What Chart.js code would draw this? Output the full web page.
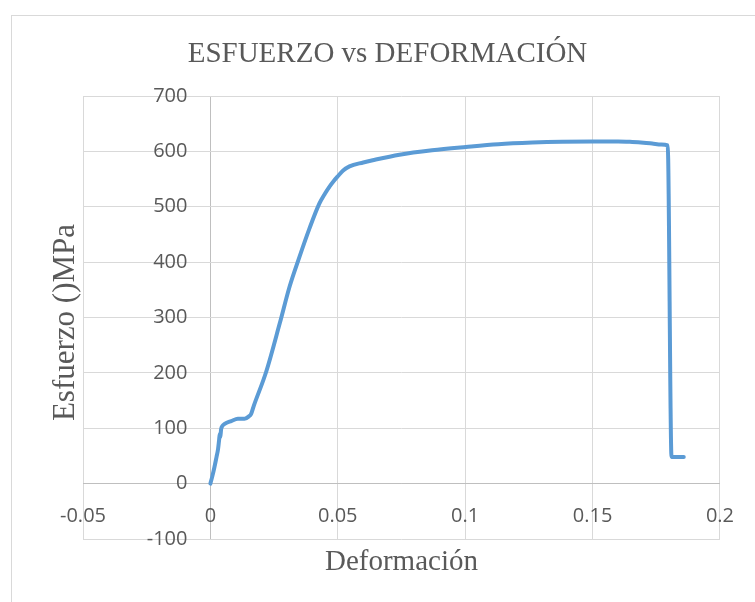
<!DOCTYPE html>
<html>
<head>
<meta charset="utf-8">
<script src="https://cdn.jsdelivr.net/npm/chart.js@4/dist/chart.umd.min.js"></script>
<style>
  html, body { margin: 0; padding: 0; background: #fff; overflow: hidden; }
  #wrap { position: relative; width: 755px; height: 602px; }
  #frame { position: absolute; left: 11px; top: 15px; width: 800px; height: 700px; border: 1px solid #d9d9d9; box-sizing: border-box; }
  #chart { position: absolute; left: 0; top: 0; }
</style>
</head>
<body>
<div id="wrap">
  <div id="frame"></div>
  <canvas id="chart" width="755" height="602"></canvas>
</div>
<script>
const chartTitle = "ESFUERZO vs DEFORMACIÓN";
const xTitle = "Deformación";
const yTitle = "Esfuerzo ()MPa";

const xTicks = [-0.05, 0, 0.05, 0.1, 0.15, 0.2];
const yTicks = [-100, 0, 100, 200, 300, 400, 500, 600, 700];

// strain and stress in MPa
const strain = [0, 0.0008, 0.0016, 0.0024, 0.0030, 0.0034, 0.0037, 0.0039, 0.0042, 0.0047, 0.0056, 0.0082, 0.0108, 0.0134, 0.0150, 0.0160, 0.0170,
  0.0219, 0.0272, 0.0311, 0.0350, 0.0389, 0.0428, 0.0450, 0.0467, 0.0485, 0.0500, 0.0520, 0.0546, 0.0600, 0.0637, 0.0742, 0.0870, 0.1003,
  0.1130, 0.1264, 0.1380, 0.1499, 0.1600, 0.1656, 0.1700, 0.1734, 0.1770, 0.1795, 0.1810, 0.1858];
const stress = [0, 14, 30, 48, 62, 78, 90, 84, 98, 104, 108, 113, 117, 117, 121, 126, 140,
  202, 289, 356, 410, 461, 506, 524, 536, 547, 555, 565, 573, 580, 584, 594, 602, 608,
  613, 616, 617.5, 618, 618, 617, 615.7, 614.2, 612.5, 611, 48, 48];

const points = strain.map((x, i) => ({ x, y: stress[i] }));

const textColor = "#595959";
const gridColor = "#d9d9d9";
const axisColor = "#bfbfbf";

const titles = {
  id: "titles",
  afterDraw(chart) {
    const c = chart.ctx;
    const a = chart.chartArea;
    c.save();
    c.fillStyle = textColor;
    c.textAlign = "center";
    c.textBaseline = "alphabetic";
    c.font = "29px 'Liberation Serif'";
    c.fillText(chartTitle, 387.5, 61.5);
    c.fillText(xTitle, (a.left + a.right) / 2, 570);
    c.translate(73.5, 322.5);
    c.rotate(-Math.PI / 2);
    c.font = "31px 'Liberation Serif'";
    c.fillText(yTitle, 0, 0);
    c.restore();
  }
};

const fmt = (v) => String(Number(v.toFixed(2)));
const zeroDark = (ctx) => (ctx.tick && ctx.tick.value === 0 ? axisColor : gridColor);

new Chart(document.getElementById("chart"), {
  type: "scatter",
  data: {
    datasets: [{
      data: points,
      showLine: true,
      borderColor: "#5b9bd5",
      borderWidth: 4,
      pointRadius: 0,
      cubicInterpolationMode: "monotone",
      borderJoinStyle: "round",
      borderCapStyle: "round"
    }]
  },
  options: {
    responsive: false,
    devicePixelRatio: 1,
    animation: false,
    layout: { padding: { left: 83, right: 34, top: 96, bottom: 63 } },
    plugins: { legend: { display: false }, tooltip: { enabled: false }, title: { display: false } },
    scales: {
      x: {
        type: "linear",
        position: { y: 0 },
        min: -0.05,
        max: 0.2,
        afterBuildTicks: (s) => { s.ticks = xTicks.map((v) => ({ value: v })); },
        grid: { color: zeroDark, lineWidth: 1, drawTicks: false },
        border: { color: axisColor, width: 1 },
        ticks: { color: textColor, font: { family: "'Open Sans'", size: 20 }, padding: 21, callback: fmt, maxRotation: 0 }
      },
      y: {
        type: "linear",
        // labels sit just left of the x = 0 line, as in the source chart
        position: { x: -0.009 },
        min: -100,
        max: 700,
        afterBuildTicks: (s) => { s.ticks = yTicks.map((v) => ({ value: v })); },
        grid: { color: zeroDark, lineWidth: 1, drawTicks: false },
        border: { display: false },
        ticks: { color: textColor, font: { family: "'Open Sans'", size: 20 }, callback: fmt }
      }
    }
  },
  plugins: [titles]
});
</script>
</body>
</html>
